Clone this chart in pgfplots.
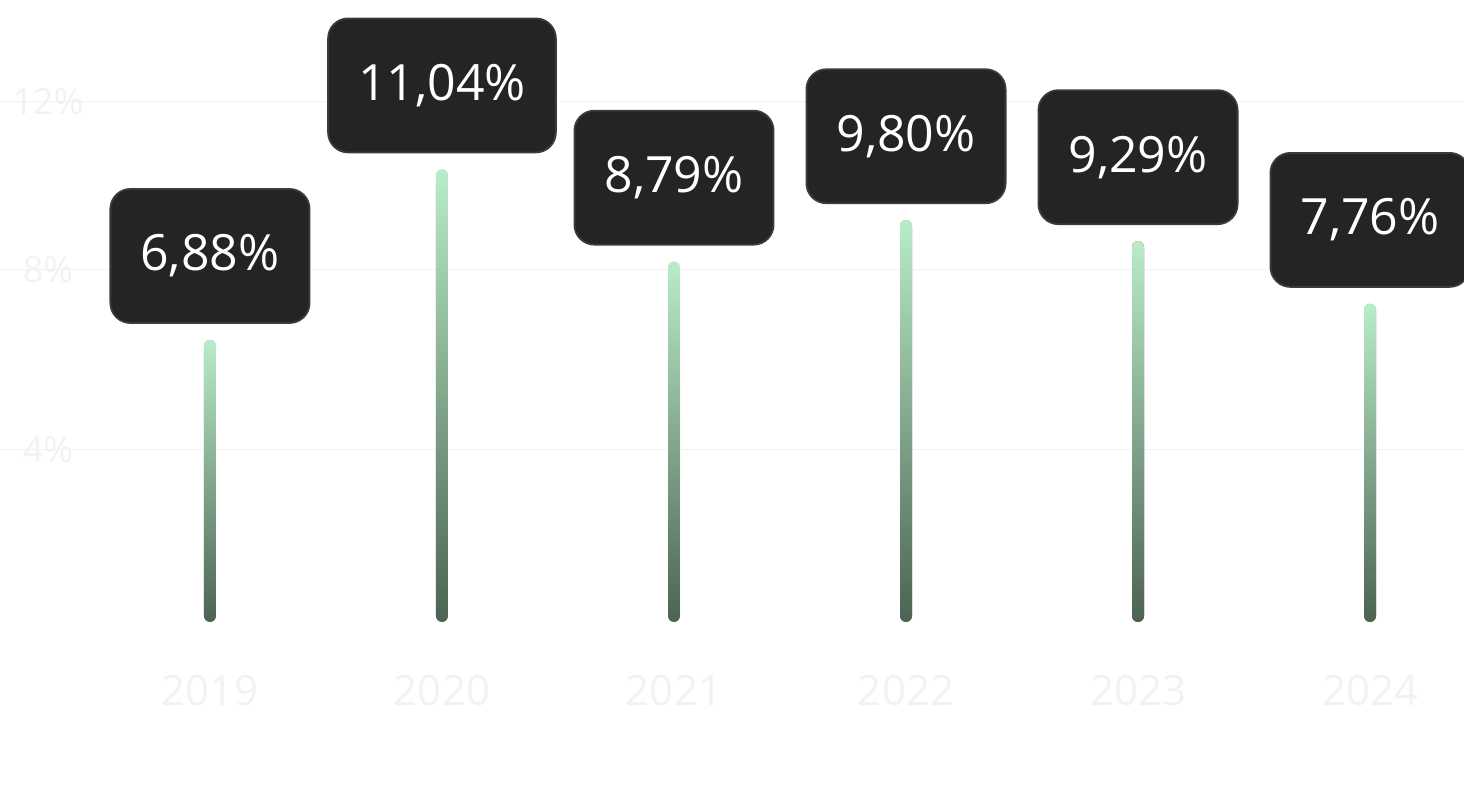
\documentclass[border=0pt]{standalone}
\usepackage{pgfplots}
\pgfplotsset{compat=1.18}
\usepackage{fontspec}
\setmainfont{Open Sans}
\definecolor{boxfill}{HTML}{232423}
\definecolor{boxedge}{HTML}{3A3B3B}
\definecolor{bartop}{HTML}{B9ECC9}
\definecolor{barbot}{HTML}{4C6352}
\definecolor{ghost}{HTML}{F2F2F2}

\begin{document}
\begin{tikzpicture}
\begin{axis}[
    scale only axis,
    width=732pt, height=404pt,
    xmin=-0.905, xmax=5.405,
    ymin=-4.537, ymax=15.17,
    axis line style={draw=none},
    major tick length=0pt,
    xtick={0,...,5},
    xticklabels={2019,2020,2021,2022,2023,2024},
    xticklabel style={anchor=center, yshift=59pt, text=ghost, font=\fontsize{21}{24}\selectfont},
    ytick={4.2,8.6,12.7},
    yticklabels={4\%,8\%,12\%},
    yticklabel style={anchor=center, xshift=24pt, text=ghost, font=\fontsize{18}{22}\selectfont},
    ymajorgrids,
    grid style={ghost, line width=0.6pt},
    ybar, bar width=6pt, bar shift=0pt,
    clip=false,
    every axis plot/.append style={draw=none, top color=bartop, bottom color=barbot, rounded corners=3pt},
    nodes near coords={\pgfmathprintnumber[fixed,fixed zerofill,precision=2,use comma,assume math mode=true]{\pgfplotspointmeta}\%},
    every node near coord/.append style={
        anchor=south, yshift=8pt,
        fill=boxfill, draw=boxedge, line width=0.9pt,
        rounded corners=10pt,
        text=white, font=\fontsize{25}{30}\selectfont,
        inner xsep=15pt, minimum height=67pt},
]
% one plot per year, so that each bar gets its own gradient
\addplot coordinates {(0,6.88)};
\addplot coordinates {(1,11.04)};
\addplot coordinates {(2,8.79)};
\addplot coordinates {(3,9.80)};
\addplot coordinates {(4,9.29)};
\addplot coordinates {(5,7.76)};
\end{axis}
\pgfresetboundingbox
\useasboundingbox (current axis.south west) rectangle (current axis.north east);
\end{tikzpicture}
\end{document}
